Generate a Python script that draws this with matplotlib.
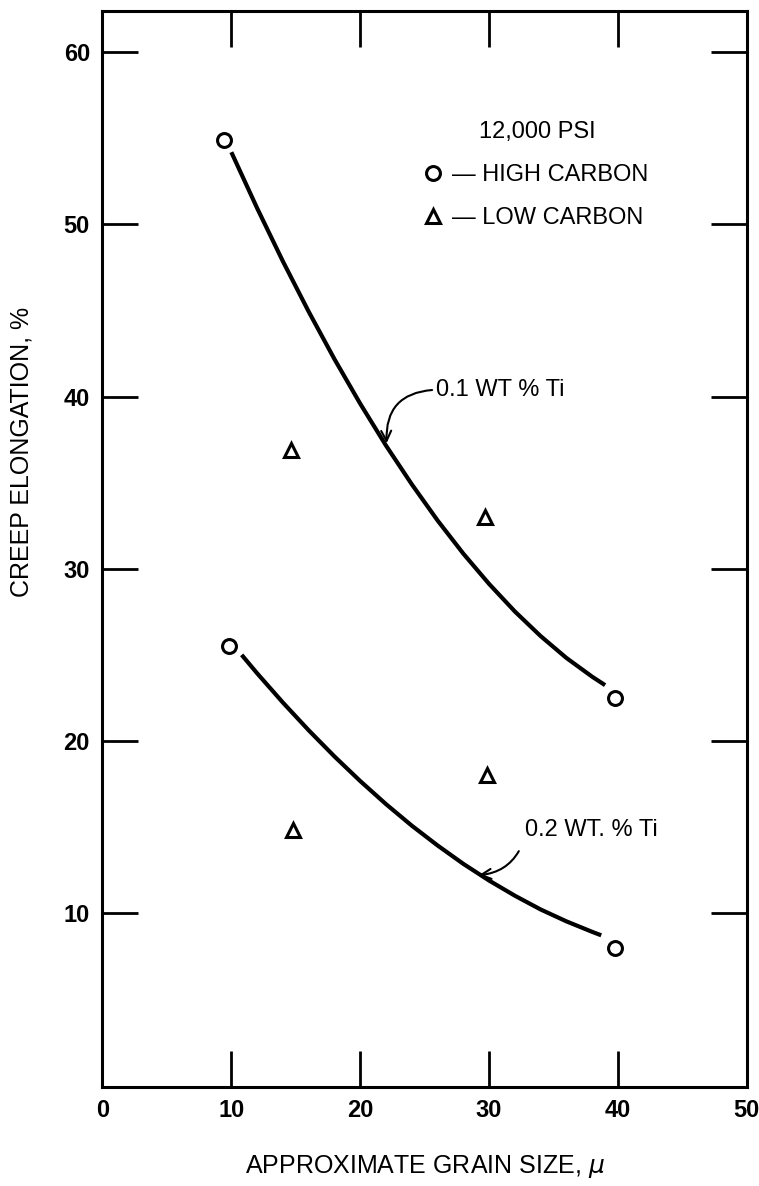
import matplotlib
matplotlib.use("Agg")
import matplotlib.pyplot as plt

## -----------------------------------------------------------------------------
## Creep elongation vs grain size, 12,000 psi
## -----------------------------------------------------------------------------

plt.rcParams["font.family"] = ["Liberation Sans", "DejaVu Sans"]

# data points
high_c_x = [9.4, 9.8, 39.8, 39.8]
high_c_y = [54.9, 25.5, 22.5, 8.0]
low_c_x = [14.6, 29.7, 29.8, 14.75]
low_c_y = [36.9, 33.0, 18.0, 14.8]

# hand-drawn trend curves
curve1_x = [10, 12, 14, 16, 18, 20, 22, 24, 26, 28, 30, 32, 34, 36, 38, 39]
curve1_y = [54.2, 50.95, 47.86, 44.94, 42.18, 39.59, 37.16, 34.91, 32.81,
            30.88, 29.12, 27.52, 26.09, 24.82, 23.73, 23.24]
curve2_x = [10.8, 12, 14, 16, 18, 20, 22, 24, 26, 28, 30, 32, 34, 36, 38, 38.7]
curve2_y = [25.0, 23.93, 22.23, 20.62, 19.10, 17.67, 16.33, 15.08, 13.93,
            12.86, 11.89, 11.01, 10.21, 9.52, 8.91, 8.71]

x_ticks = [10, 20, 30, 40]
y_ticks = [10, 20, 30, 40, 50, 60]

## -----------------------------------------------------------------------------
fig = plt.figure(figsize=(7.59, 11.86), dpi=100)
ax = fig.add_axes([0.135, 0.0835, 0.849, 0.9072])

ax.plot(curve1_x, curve1_y, color="black", lw=3, solid_capstyle="butt")
ax.plot(curve2_x, curve2_y, color="black", lw=3, solid_capstyle="butt")

ax.plot(high_c_x, high_c_y, "o", ms=10, mfc="white", mec="black", mew=2.2,
        ls="none", label="\u2014 HIGH CARBON")
ax.plot(low_c_x, low_c_y, "^", ms=10, mfc="white", mec="black", mew=2.2,
        ls="none", label="\u2014 LOW CARBON")

leg = ax.legend(title="12,000 PSI", loc="upper left", bbox_to_anchor=(0.484, 0.909),
                frameon=False, fontsize=17, title_fontsize=17, borderpad=0,
                handlelength=0.6, handletextpad=0.5, labelspacing=0.9)

ax.annotate("0.1 WT % Ti", xy=(22.05, 37.3), xytext=(25.9, 40.4),
            fontsize=17, va="center", ha="left",
            arrowprops=dict(arrowstyle="->", color="black", lw=1.5,
                            connectionstyle="arc3,rad=0.5", shrinkA=1, shrinkB=0,
                            relpos=(0, 0.5), mutation_scale=18))
ax.annotate("0.2 WT. % Ti", xy=(29.2, 12.2), xytext=(32.8, 14.8),
            fontsize=17, va="center", ha="left",
            arrowprops=dict(arrowstyle="->", color="black", lw=1.5,
                            connectionstyle="arc3,rad=-0.35", shrinkA=6, shrinkB=0,
                            relpos=(0, 0.3), mutation_scale=18))

ax.set_xlim(0, 50)
ax.set_ylim(-0.1, 62.4)
ax.set_xticks([0] + x_ticks + [50])
ax.set_yticks(y_ticks)
ax.tick_params(axis="both", direction="in", length=26, width=2,
               top=True, right=True, labelsize=17, pad=9)
for lbl in ax.get_xticklabels() + ax.get_yticklabels():
    lbl.set_fontweight("bold")
for side in ["left", "right", "top", "bottom"]:
    ax.spines[side].set_linewidth(2.2)

ax.set_xlabel(r"APPROXIMATE GRAIN SIZE, $\mu$", fontsize=18, labelpad=22)
ax.set_ylabel("CREEP ELONGATION, %", fontsize=18)
ax.yaxis.set_label_coords(-0.107, 0.59)

plt.savefig("out.png", dpi=100)
